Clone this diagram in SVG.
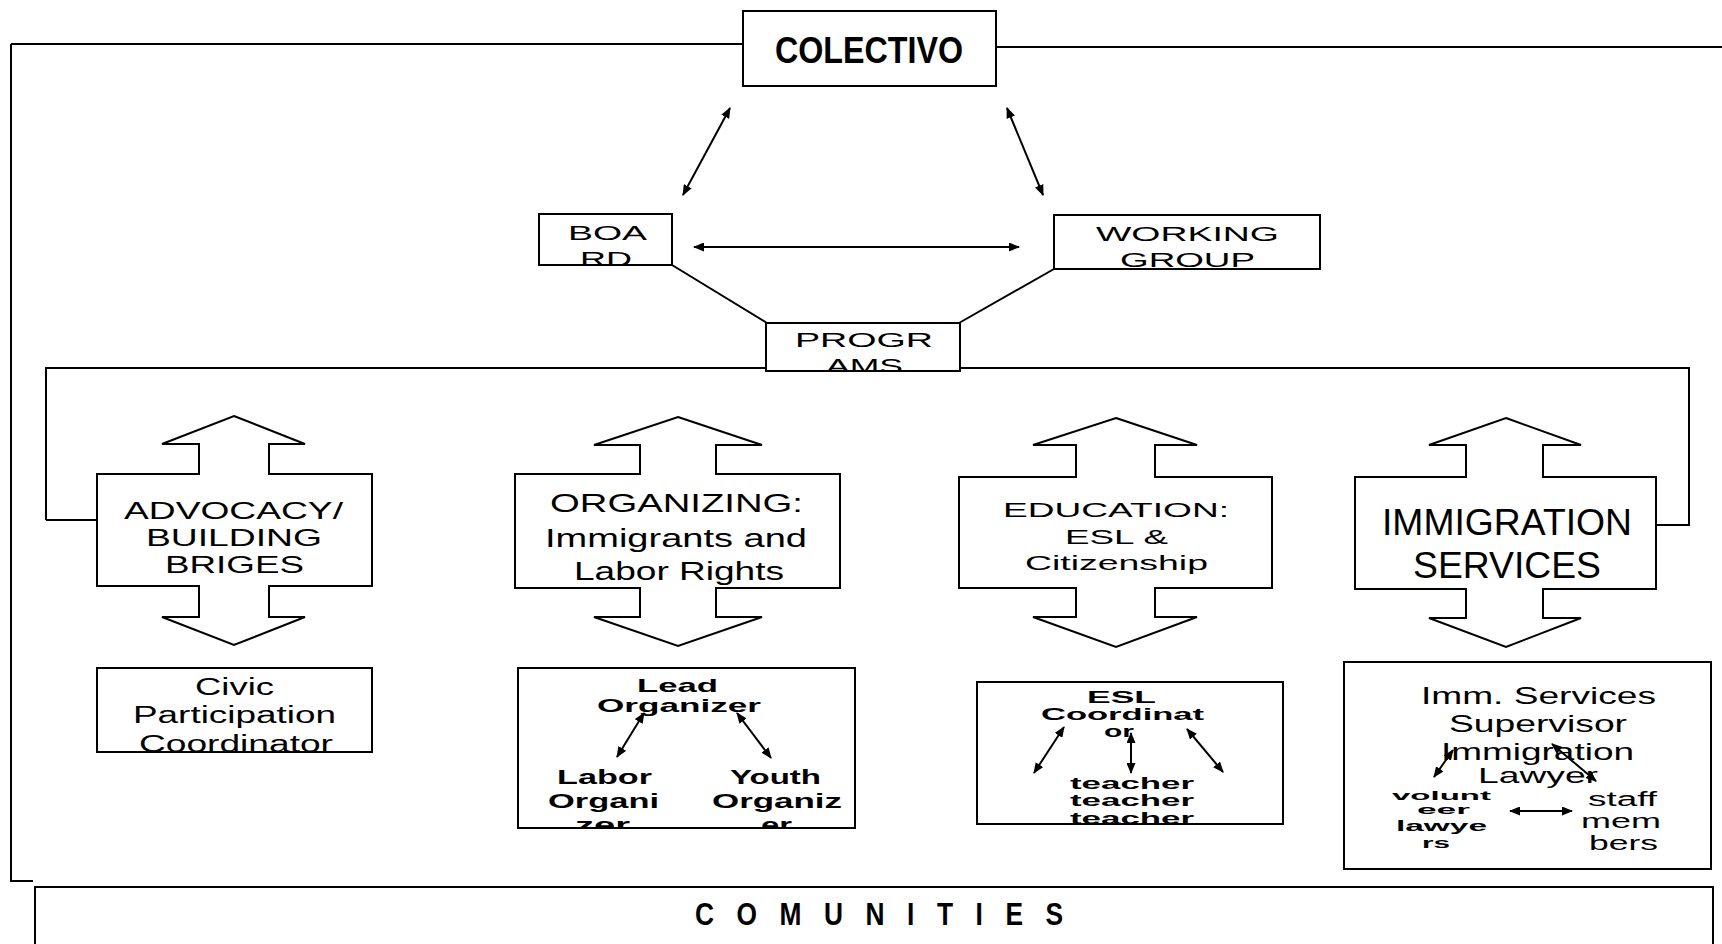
<svg xmlns="http://www.w3.org/2000/svg" width="1722" height="944" viewBox="0 0 1722 944">
<style>
.bx{fill:#fff;stroke:#000;stroke-width:2}
.ln{fill:none;stroke:#000;stroke-width:2}
.ar{fill:none;stroke:#000;stroke-width:2;marker-start:url(#ah);marker-end:url(#ah)}
.t{font-family:"Liberation Sans",Arial,sans-serif;fill:#000}
.b{font-weight:bold}
</style>
<defs>
<marker id="ah" viewBox="0 0 11 9" refX="10" refY="4.5" markerWidth="11" markerHeight="9" markerUnits="userSpaceOnUse" orient="auto-start-reverse"><path d="M0,0 L11,4.5 L0,9 Z"/></marker>
<clipPath id="cBoard"><rect x="539" y="214" width="133" height="51"/></clipPath>
<clipPath id="cProg"><rect x="766" y="323" width="194" height="48"/></clipPath>
<clipPath id="cCivic"><rect x="97" y="668" width="275" height="84"/></clipPath>
<clipPath id="cOrg"><rect x="518" y="668" width="337" height="160"/></clipPath>
<clipPath id="cEsl"><rect x="977" y="682" width="306" height="142"/></clipPath>
</defs>
<rect width="1722" height="944" fill="#fff"/>

<g id="connectors">
<path class="ln" d="M11,44 L743,44 M996,47 L1722,47 M11,44 L11,881 L33,881"/>
<path class="ln" d="M46,520 L46,368 L767,368 M959,368 L1689,368 L1689,525 L1656,525 M46,520 L97,520"/>
<line class="ar" x1="730" y1="108" x2="683" y2="195"/>
<line class="ar" x1="1007" y1="108" x2="1043" y2="195"/>
<line class="ar" x1="694" y1="247" x2="1019" y2="247"/>
<line class="ln" x1="672" y1="265" x2="767" y2="323"/>
<line class="ln" x1="1054" y1="269" x2="959" y2="323"/>
<line class="ar" x1="644" y1="713" x2="617" y2="757"/>
<line class="ar" x1="737" y1="713" x2="771" y2="758"/>
<line class="ar" x1="1064" y1="727" x2="1034" y2="773"/>
<line class="ar" x1="1131" y1="733" x2="1131" y2="773"/>
<line class="ar" x1="1187" y1="729" x2="1223" y2="772"/>
<line class="ar" x1="1453" y1="750" x2="1434" y2="777"/>
<line class="ar" x1="1552" y1="744" x2="1596" y2="781"/>
<line class="ar" x1="1510" y1="811" x2="1572" y2="811"/>
</g>

<g id="colectivo">
<rect class="bx" x="743" y="11" width="253" height="75"/>
<text class="t b" x="775" y="63" font-size="36" textLength="188" lengthAdjust="spacingAndGlyphs">COLECTIVO</text>
</g>

<g id="board">
<rect class="bx" x="539" y="214" width="133" height="51"/>
<g clip-path="url(#cBoard)">
<text class="t" x="568" y="240" font-size="21" textLength="79" lengthAdjust="spacingAndGlyphs">BOA</text>
<text class="t" x="580" y="266" font-size="21" textLength="52" lengthAdjust="spacingAndGlyphs">RD</text>
</g>
<line class="ln" x1="539" y1="265" x2="672" y2="265"/>
</g>

<g id="working-group">
<rect class="bx" x="1054" y="215" width="266" height="54"/>
<text class="t" x="1096" y="241" font-size="21" textLength="183" lengthAdjust="spacingAndGlyphs">WORKING</text>
<text class="t" x="1120" y="267" font-size="21" textLength="135" lengthAdjust="spacingAndGlyphs">GROUP</text>
</g>

<g id="programs">
<rect class="bx" x="766" y="323" width="194" height="48"/>
<g clip-path="url(#cProg)">
<text class="t" x="795" y="347" font-size="21" textLength="138" lengthAdjust="spacingAndGlyphs">PROGR</text>
<text class="t" x="826" y="373" font-size="21" textLength="77" lengthAdjust="spacingAndGlyphs">AMS</text>
</g>
<line class="ln" x1="766" y1="371" x2="960" y2="371"/>
</g>

<g id="advocacy">
<path class="bx" d="M234,416 L305,444 L269,444 L269,474 L372,474 L372,586 L269,586 L269,617 L305,617 L234,645 L162,617 L199,617 L199,586 L97,586 L97,474 L199,474 L199,444 L162,444 Z"/>
<text class="t" x="124" y="519" font-size="24" textLength="219" lengthAdjust="spacingAndGlyphs">ADVOCACY/</text>
<text class="t" x="146" y="546" font-size="24" textLength="176" lengthAdjust="spacingAndGlyphs">BUILDING</text>
<text class="t" x="165" y="573" font-size="24" textLength="139" lengthAdjust="spacingAndGlyphs">BRIGES</text>
</g>

<g id="organizing">
<path class="bx" d="M678,417 L762,445 L716,445 L716,474 L840,474 L840,588 L716,588 L716,617 L762,617 L678,646 L594,617 L640,617 L640,588 L515,588 L515,474 L640,474 L640,445 L594,445 Z"/>
<text class="t" x="550" y="512" font-size="26" textLength="253" lengthAdjust="spacingAndGlyphs">ORGANIZING:</text>
<text class="t" x="545" y="547" font-size="26" textLength="262" lengthAdjust="spacingAndGlyphs">Immigrants and</text>
<text class="t" x="574" y="580" font-size="26" textLength="210" lengthAdjust="spacingAndGlyphs">Labor Rights</text>
</g>

<g id="education">
<path class="bx" d="M1116,418 L1197,445 L1155,445 L1155,477 L1272,477 L1272,588 L1155,588 L1155,617 L1197,617 L1116,647 L1033,617 L1076,617 L1076,588 L959,588 L959,477 L1076,477 L1076,445 L1033,445 Z"/>
<text class="t" x="1003" y="517" font-size="21" textLength="226" lengthAdjust="spacingAndGlyphs">EDUCATION:</text>
<text class="t" x="1065" y="544" font-size="21" textLength="103" lengthAdjust="spacingAndGlyphs">ESL &amp;</text>
<text class="t" x="1025" y="570" font-size="21" textLength="183" lengthAdjust="spacingAndGlyphs">Citizenship</text>
</g>

<g id="immigration">
<path class="bx" d="M1506,418 L1581,445 L1543,445 L1543,477 L1656,477 L1656,589 L1543,589 L1543,618 L1581,618 L1506,647 L1429,618 L1466,618 L1466,589 L1355,589 L1355,477 L1466,477 L1466,445 L1429,445 Z"/>
<text class="t" x="1382" y="535" font-size="37" textLength="250" lengthAdjust="spacingAndGlyphs">IMMIGRATION</text>
<text class="t" x="1413" y="578" font-size="37" textLength="188" lengthAdjust="spacingAndGlyphs">SERVICES</text>
</g>

<g id="civic">
<rect class="bx" x="97" y="668" width="275" height="84"/>
<g clip-path="url(#cCivic)">
<text class="t" x="195" y="695" font-size="23" textLength="79" lengthAdjust="spacingAndGlyphs">Civic</text>
<text class="t" x="133" y="723" font-size="23" textLength="203" lengthAdjust="spacingAndGlyphs">Participation</text>
<text class="t" x="139" y="752" font-size="23" textLength="194" lengthAdjust="spacingAndGlyphs">Coordinator</text>
</g>
<line class="ln" x1="97" y1="752" x2="372" y2="752"/>
</g>

<g id="organizing-staff">
<rect class="bx" x="518" y="668" width="337" height="160" fill-opacity="0"/>
<g clip-path="url(#cOrg)">
<text class="t b" x="637" y="692" font-size="19" textLength="81" lengthAdjust="spacingAndGlyphs">Lead</text>
<text class="t b" x="597" y="712" font-size="19" textLength="164" lengthAdjust="spacingAndGlyphs">Organizer</text>
<text class="t b" x="557" y="784" font-size="21" textLength="95" lengthAdjust="spacingAndGlyphs">Labor</text>
<text class="t b" x="548" y="808" font-size="21" textLength="111" lengthAdjust="spacingAndGlyphs">Organi</text>
<text class="t b" x="575" y="832" font-size="21" textLength="55" lengthAdjust="spacingAndGlyphs">zer</text>
<text class="t b" x="730" y="784" font-size="21" textLength="91" lengthAdjust="spacingAndGlyphs">Youth</text>
<text class="t b" x="712" y="808" font-size="21" textLength="130" lengthAdjust="spacingAndGlyphs">Organiz</text>
<text class="t b" x="761" y="832" font-size="21" textLength="31" lengthAdjust="spacingAndGlyphs">er</text>
</g>
<line class="ln" x1="518" y1="828" x2="855" y2="828"/>
</g>

<g id="esl-staff">
<rect class="bx" x="977" y="682" width="306" height="142" fill-opacity="0"/>
<g clip-path="url(#cEsl)">
<text class="t b" x="1087" y="703" font-size="16" textLength="69" lengthAdjust="spacingAndGlyphs">ESL</text>
<text class="t b" x="1041" y="720" font-size="16" textLength="163" lengthAdjust="spacingAndGlyphs">Coordinat</text>
<text class="t b" x="1104" y="737" font-size="16" textLength="30" lengthAdjust="spacingAndGlyphs">or</text>
<text class="t b" x="1070" y="789" font-size="16" textLength="124" lengthAdjust="spacingAndGlyphs">teacher</text>
<text class="t b" x="1070" y="806" font-size="16" textLength="124" lengthAdjust="spacingAndGlyphs">teacher</text>
<text class="t b" x="1070" y="824" font-size="16" textLength="124" lengthAdjust="spacingAndGlyphs">teacher</text>
</g>
<line class="ln" x1="977" y1="824" x2="1283" y2="824"/>
</g>

<g id="immigration-staff">
<rect class="bx" x="1344" y="662" width="367" height="207" fill-opacity="0"/>
<text class="t" x="1421" y="704" font-size="24" textLength="235" lengthAdjust="spacingAndGlyphs">Imm. Services</text>
<text class="t" x="1449" y="732" font-size="24" textLength="178" lengthAdjust="spacingAndGlyphs">Supervisor</text>
<text class="t" x="1441" y="760" font-size="24" textLength="193" lengthAdjust="spacingAndGlyphs">Immigration</text>
<text class="t" x="1478" y="783" font-size="22" textLength="120" lengthAdjust="spacingAndGlyphs">Lawyer</text>
<text class="t b" x="1392" y="800" font-size="13" textLength="99" lengthAdjust="spacingAndGlyphs">volunt</text>
<text class="t b" x="1417" y="814" font-size="13" textLength="53" lengthAdjust="spacingAndGlyphs">eer</text>
<text class="t b" x="1396" y="831" font-size="14" textLength="91" lengthAdjust="spacingAndGlyphs">lawye</text>
<text class="t b" x="1422" y="848" font-size="14" textLength="28" lengthAdjust="spacingAndGlyphs">rs</text>
<text class="t" x="1588" y="806" font-size="20" textLength="69" lengthAdjust="spacingAndGlyphs">staff</text>
<text class="t" x="1581" y="828" font-size="20" textLength="80" lengthAdjust="spacingAndGlyphs">mem</text>
<text class="t" x="1589" y="850" font-size="20" textLength="69" lengthAdjust="spacingAndGlyphs">bers</text>
</g>

<g id="comunities">
<rect class="bx" x="35" y="887" width="1678" height="70"/>
<text class="t b" transform="translate(695,925) scale(0.85,1)" font-size="31" textLength="433" lengthAdjust="spacing">COMUNITIES</text>
</g>
</svg>
